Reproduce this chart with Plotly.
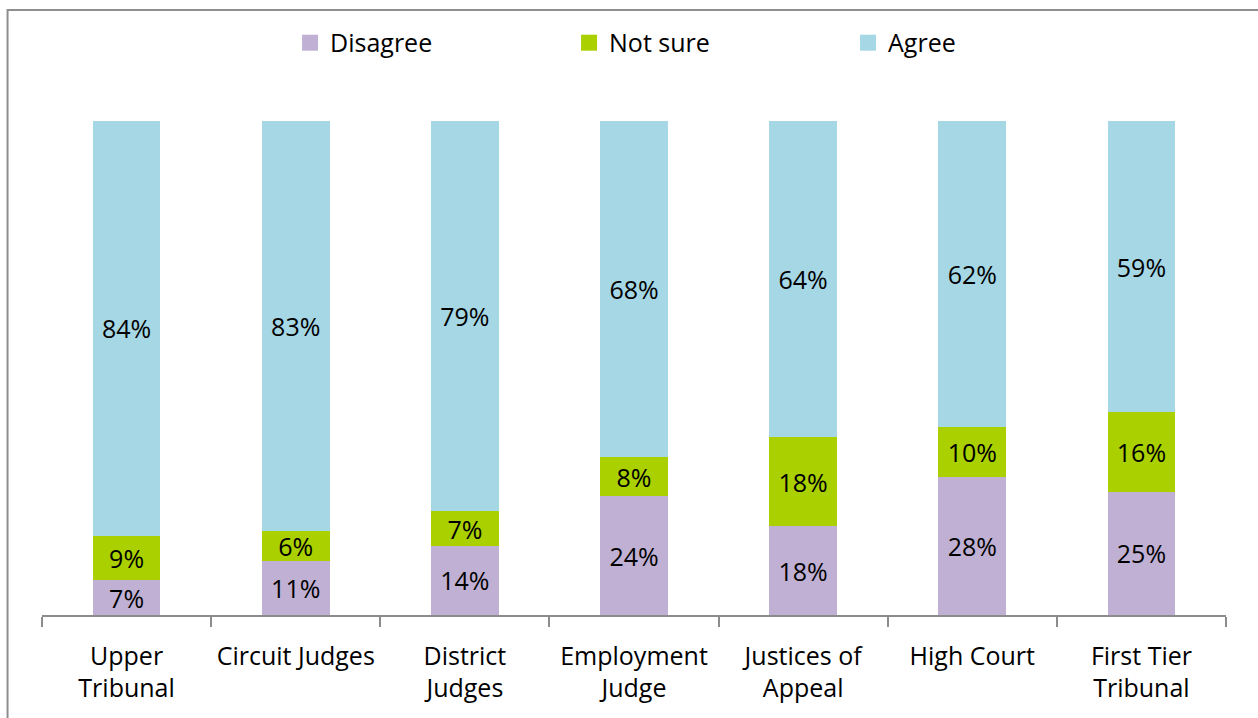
import plotly.graph_objects as go

categories = ["Upper<br>Tribunal", "Circuit Judges", "District<br>Judges",
              "Employment<br>Judge", "Justices of<br>Appeal", "High Court",
              "First Tier<br>Tribunal"]
disagree = [7, 11, 14, 24, 18, 28, 25]
not_sure = [9, 6, 7, 8, 18, 10, 16]
agree = [84, 83, 79, 68, 64, 62, 59]

series = [
    ("Disagree", disagree, "#C0B1D4"),
    ("Not sure", not_sure, "#AAD000"),
    ("Agree", agree, "#A5D7E5"),
]

FONT = "Open Sans, sans-serif"
SIZE = 25

fig = go.Figure()
for name, vals, color in series:
    fig.add_trace(go.Bar(
        name=name, x=categories, y=vals, showlegend=False,
        legendgroup=name,
        marker=dict(color=color, line=dict(width=0)),
        texttemplate="%{y}%", textposition="inside",
        insidetextanchor="middle", textangle=0, constraintext="none",
        textfont=dict(family=FONT, size=SIZE, color="black"),
    ))

# legend keys drawn as larger square swatches
for name, vals, color in series:
    fig.add_trace(go.Scatter(
        name=name, x=[None], y=[None], mode="markers", legendgroup=name,
        marker=dict(symbol="square", size=16, color=color),
        showlegend=True, hoverinfo="skip",
    ))

# chart-area border (left and top edges visible)
fig.add_shape(type="rect", xref="paper", yref="paper",
              x0=-0.0291, x1=1.2, y0=-0.4, y1=1.2247,
              line=dict(color="#8E8E8E", width=2), layer="above")

fig.update_layout(
    barmode="stack", bargap=0.6,
    width=1258, height=718,
    margin=dict(l=42, r=32, t=121, b=103),
    paper_bgcolor="white", plot_bgcolor="white",
    font=dict(family=FONT, size=SIZE, color="black"),
    showlegend=True,
    legend=dict(orientation="h", x=0.2095, xanchor="left", y=1.158,
                yanchor="middle", entrywidth=234, entrywidthmode="pixels",
                traceorder="normal", font=dict(family=FONT, size=SIZE),
                itemsizing="trace", itemclick=False),
    xaxis=dict(showline=True, linecolor="#8C8C8C", linewidth=1.5,
               ticks="outside", tickson="boundaries", ticklen=10,
               tickcolor="#8C8C8C", tickwidth=1.5, showgrid=False,
               ticklabelstandoff=18, automargin=False,
               tickfont=dict(family=FONT, size=SIZE, color="black")),
    yaxis=dict(range=[0, 100], visible=False, showgrid=False),
)

fig.write_html("out.html")
